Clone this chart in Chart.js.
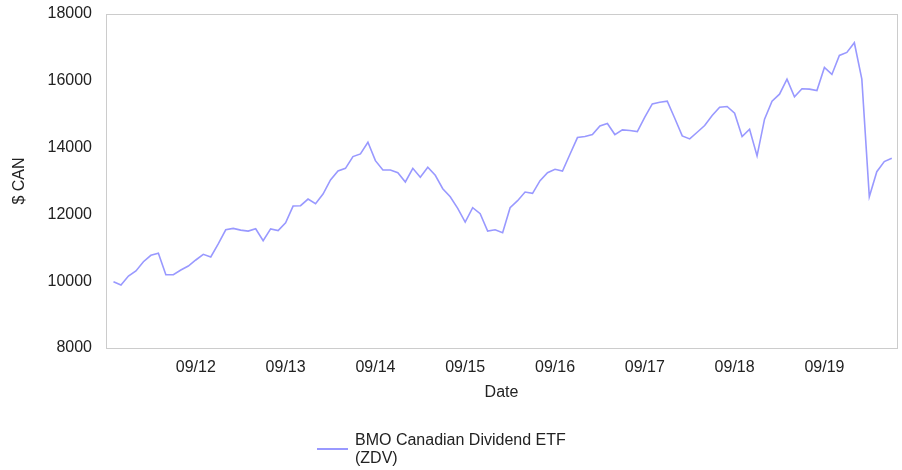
<!DOCTYPE html>
<html>
<head>
<meta charset="utf-8">
<title>BMO Canadian Dividend ETF (ZDV)</title>
<script src="https://cdn.jsdelivr.net/npm/chart.js@4/dist/chart.umd.min.js"></script>
<style>
    html, body { margin: 0; padding: 0; background: #fff; }
</style>
</head>
<body>
<canvas id="zdvChart" width="902" height="470"></canvas>
<script>
/* ===============================
   DATA
   =============================== */
// monthly value of a $10,000 holding, starting Oct 2011
const startYear = 2011;
const startMonth = 10;

const zdvValues = [
    9985, 9886, 10156, 10305, 10584, 10775, 10835, 10195, 10195, 10335,
    10455, 10635, 10805, 10725, 11115, 11540, 11580, 11530, 11500, 11570,
    11210, 11565, 11515, 11750, 12250, 12260, 12460, 12320, 12610, 13030,
    13300, 13380, 13730, 13810, 14160, 13610, 13330, 13330, 13250, 12970,
    13380, 13110, 13410, 13170, 12770, 12530, 12180, 11770, 12200, 12020,
    11500, 11540, 11450, 12200, 12410, 12670, 12630, 13010, 13250, 13350,
    13300, 13800, 14300, 14330, 14390, 14650, 14720, 14390, 14530, 14510,
    14480, 14910, 15310, 15360, 15390, 14880, 14350, 14260, 14460, 14660,
    14960, 15210, 15230, 15030, 14330, 14550, 13750, 14850, 15390, 15600,
    16050, 15520, 15760, 15750, 15710, 16400, 16190, 16760, 16850, 17140,
    16050, 12530, 13280, 13580, 13680
];

const tickMonths = ["09/12", "09/13", "09/14", "09/15", "09/16", "09/17", "09/18", "09/19"];
const yTicks = [8000, 10000, 12000, 14000, 16000, 18000];
const seriesLabel = ["BMO Canadian Dividend ETF", "(ZDV)"];

// "MM/YY" label for each monthly point
const monthLabels = zdvValues.map((_, i) => {
    const m = (startMonth - 1 + i) % 12 + 1;
    const y = startYear + Math.floor((startMonth - 1 + i) / 12);
    return String(m).padStart(2, "0") + "/" + String(y % 100).padStart(2, "0");
});
const tickIndexes = tickMonths.map(t => monthLabels.indexOf(t));

/* ===============================
   PLUGINS
   =============================== */
const FONT = '"Liberation Sans", Arial, sans-serif';
const FONT_SIZE = 16;
const TEXT = "#222";
const LINE = "rgb(153,153,255)";

// light grey frame around the plot area
const plotFrame = {
    id: "plotFrame",
    beforeDatasetsDraw(chart) {
        const { ctx, chartArea: a } = chart;
        ctx.save();
        ctx.strokeStyle = "#cccccc";
        ctx.lineWidth = 1;
        ctx.strokeRect(Math.round(a.left) + 0.5, Math.round(a.top) + 0.5,
            Math.round(a.right - a.left), Math.round(a.bottom - a.top));
        ctx.restore();
    }
};

// legend under the axis, label wraps onto two lines
const bottomLegend = {
    id: "bottomLegend",
    afterDraw(chart) {
        const ctx = chart.ctx;
        const ds = chart.data.datasets[0];
        ctx.save();
        ctx.font = FONT_SIZE + "px " + FONT;
        const textW = Math.max(...seriesLabel.map(t => ctx.measureText(t).width));
        const lineW = 31, gap = 7;
        const x0 = Math.round((chart.width - (lineW + gap + textW)) / 2) - 10;
        const y0 = chart.height - 29;
        ctx.strokeStyle = ds.borderColor;
        ctx.lineWidth = 2;
        ctx.beginPath();
        ctx.moveTo(x0, y0 + 8);
        ctx.lineTo(x0 + lineW, y0 + 8);
        ctx.stroke();
        ctx.fillStyle = TEXT;
        ctx.textBaseline = "middle";
        ctx.textAlign = "left";
        seriesLabel.forEach((t, i) => ctx.fillText(t, x0 + lineW + gap, y0 + i * 18));
        ctx.restore();
    }
};

/* ===============================
   CHART
   =============================== */
new Chart(document.getElementById("zdvChart"), {
    type: "line",
    data: {
        datasets: [{
            label: seriesLabel.join(" "),
            data: zdvValues.map((v, i) => ({ x: i, y: v })),
            borderColor: LINE,
            borderWidth: 1.6,
            pointRadius: 0,
            tension: 0,
            fill: false
        }]
    },
    options: {
        responsive: false,
        animation: false,
        layout: { padding: { top: 14, right: 5, bottom: 60, left: 0 } },
        plugins: {
            legend: { display: false },
            tooltip: { enabled: false }
        },
        scales: {
            x: {
                type: "linear",
                min: -1,
                max: 104.7,
                grid: { display: false, drawTicks: false },
                border: { display: false },
                afterBuildTicks: scale => {
                    scale.ticks = tickIndexes.map(i => ({ value: i }));
                },
                afterFit: scale => { scale.height = 62; },
                ticks: {
                    padding: 10,
                    maxRotation: 0,
                    autoSkip: false,
                    color: TEXT,
                    font: { family: FONT, size: FONT_SIZE },
                    callback: v => monthLabels[v]
                },
                title: {
                    display: true,
                    text: "Date",
                    color: TEXT,
                    font: { family: FONT, size: FONT_SIZE },
                    padding: { top: 0, bottom: 8 }
                }
            },
            y: {
                min: 8000,
                max: 18000,
                grid: { display: false, drawTicks: false },
                border: { display: false },
                afterBuildTicks: scale => {
                    scale.ticks = yTicks.map(v => ({ value: v }));
                },
                afterFit: scale => {
                    scale.width = 106;
                    // labels may overhang the plot top; don't push it down
                    scale.paddingTop = 0;
                    scale.paddingBottom = 0;
                },
                ticks: {
                    padding: 14,
                    color: TEXT,
                    font: { family: FONT, size: FONT_SIZE },
                    callback: v => String(v)
                },
                title: {
                    display: true,
                    text: "$ CAN",
                    color: TEXT,
                    font: { family: FONT, size: FONT_SIZE },
                    padding: { top: 10, bottom: 0 }
                }
            }
        }
    },
    plugins: [plotFrame, bottomLegend]
});
</script>
</body>
</html>
